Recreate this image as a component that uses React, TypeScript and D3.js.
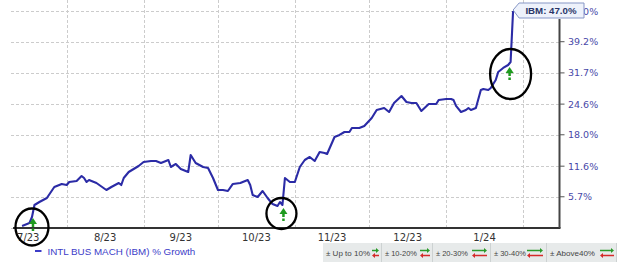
import React from "react";
import * as d3 from "d3";

const dates = [
  "2023-07-14","2023-07-17","2023-07-18","2023-07-19","2023-07-21","2023-07-24","2023-07-27","2023-07-30",
  "2023-08-01","2023-08-02","2023-08-05","2023-08-07","2023-08-08","2023-08-09","2023-08-10","2023-08-13",
  "2023-08-17","2023-08-19","2023-08-22","2023-08-23","2023-08-24","2023-08-26","2023-08-28","2023-08-30",
  "2023-09-01","2023-09-04","2023-09-06","2023-09-08","2023-09-11","2023-09-12","2023-09-14","2023-09-16",
  "2023-09-19","2023-09-20","2023-09-22","2023-09-25","2023-09-27","2023-09-29","2023-10-01","2023-10-03",
  "2023-10-05","2023-10-07","2023-10-10","2023-10-13","2023-10-14","2023-10-15","2023-10-17","2023-10-19",
  "2023-10-21","2023-10-23","2023-10-25","2023-10-26","2023-10-27","2023-10-28","2023-10-30","2023-11-01",
  "2023-11-03","2023-11-05","2023-11-07","2023-11-09","2023-11-11","2023-11-13","2023-11-14","2023-11-17",
  "2023-11-19","2023-11-21","2023-11-23","2023-11-24","2023-11-27","2023-11-29","2023-12-02","2023-12-04",
  "2023-12-07","2023-12-09","2023-12-11","2023-12-14","2023-12-16","2023-12-18","2023-12-20","2023-12-22",
  "2023-12-25","2023-12-28","2023-12-29","2024-01-01","2024-01-03","2024-01-04","2024-01-05","2024-01-07",
  "2024-01-09","2024-01-10","2024-01-11","2024-01-13","2024-01-15","2024-01-16","2024-01-18","2024-01-19",
  "2024-01-21","2024-01-22","2024-01-24","2024-01-26","2024-01-27","2024-01-28"
];
const growth = [
  0.36, 0.89, 1.97, 4.17, 4.72, 5.47, 7.55, 8.13,
  7.93, 8.51, 8.70, 9.67, 9.28, 8.51, 8.90, 8.32,
  6.98, 7.55, 8.32, 7.93, 9.28, 10.45, 11.04, 11.64,
  12.43, 12.63, 12.63, 12.23, 12.83, 11.44, 12.04, 11.04,
  10.45, 13.84, 12.23, 11.44, 11.24, 9.28, 6.98, 6.98,
  6.79, 8.13, 8.32, 8.90, 7.93, 6.03, 5.66, 6.79,
  5.47, 4.35, 3.98, 4.72, 4.17, 9.28, 8.51, 8.51,
  11.44, 12.83, 13.44, 12.63, 14.45, 14.25, 14.04, 17.54,
  17.96, 18.58, 18.58, 19.43, 19.43, 19.85, 21.57, 23.31,
  23.75, 22.87, 24.85, 26.41, 25.07, 24.85, 24.85, 23.09,
  24.63, 24.63, 25.52, 25.74, 25.74, 25.5, 24.2, 22.87,
  23.31, 23.75, 23.31, 23.75, 27.77, 27.99, 27.77, 28.22,
  30.05, 31.91, 32.86, 33.56, 34.28, 47.0
];
const yTickValues = [5.7, 11.6, 18.0, 24.6, 31.7, 39.2, 47.0];
const yTickLabels = ["5.7%", "11.6%", "18.0%", "24.6%", "31.7%", "39.2%", "47.0%"];
const monthStarts = ["2023-07-01","2023-08-01","2023-09-01","2023-10-01","2023-11-01","2023-12-01","2024-01-01","2024-02-01"];
const monthLabels = ["7/23","8/23","9/23","10/23","11/23","12/23","1/24"];
const seriesName = "INTL BUS MACH (IBM) % Growth";
const calloutText = "IBM: 47.0%";
const legendLabels = ["\u00B1 Up to 10%", "\u00B1 10-20%", "\u00B1 20-30%", "\u00B1 30-40%", "\u00B1 Above40%"];
const markerDates = ["2023-07-18", "2023-10-27", "2024-01-27"];

const parse = d3.utcParse("%Y-%m-%d");

export default function App() {
  const left = 11, right = 559.5, top = 11, bottom = 228;
  const x = d3.scaleUtc().domain([parse("2023-08-01")!, parse("2024-02-01")!]).range([66.7, 523]);
  const y = d3.scaleLog().domain([1, 1.47]).range([bottom, top]);
  const yv = (p: number) => y(1 + p / 100);
  const pts = dates.map((d, i) => [x(parse(d)!), yv(growth[i])] as [number, number]);
  const line = d3.line().curve(d3.curveLinear)(pts) || "";
  const last = pts[pts.length - 1];

  const ms = monthStarts.map((d) => x(parse(d)!));
  const font = "'DejaVu Sans', Verdana, sans-serif";
  const arial = "'Liberation Sans', Arial, sans-serif";

  const markerSpec = [
    { rx: 16.5, ry: 18.5, dx: 0, dy: 10, ax: 1, ay: 0 },
    { rx: 15, ry: 15.5, dx: -1, dy: 8.5, ax: 1, ay: 2 },
    { rx: 20.5, ry: 25, dx: 0, dy: 12, ax: -1, ay: 4 },
  ];
  const markers = markerDates.map((d, i) => {
    const idx = dates.indexOf(d);
    const [px, py] = pts[idx];
    return { px, py, ...markerSpec[i] };
  });

  const cellX = [323, 382, 433, 491, 547, 617];
  const textW = [44, 32, 32, 32, 45];
  const arrowEnd = [379, 430, 487, 543, 614];
  const arrowLen = [7, 10, 15, 16, 14];

  return (
    <svg width={620} height={266} style={{ position: "absolute", left: 0, top: 0, background: "#fff" }}>
      <g stroke="#cccccc" strokeWidth={1} strokeDasharray="3,2" fill="none">
        {[0, ...yTickValues].map((v, i) => (
          <line key={"h" + i} x1={left} x2={right} y1={Math.round(yv(v)) + 0.5} y2={Math.round(yv(v)) + 0.5} />
        ))}
        {ms.filter((m) => m > left && m < right).map((m, i) => (
          <line key={"v" + i} x1={Math.round(m) + 0.5} x2={Math.round(m) + 0.5} y1={0} y2={bottom} />
        ))}
      </g>
      <path d={line} fill="none" stroke="#2b2ba6" strokeWidth={2.1} strokeLinejoin="round" />
      <line x1={left + 2} x2={right + 1} y1={bottom} y2={bottom} stroke="#333" strokeWidth={2} />
      <line x1={right} x2={right} y1={top + 8} y2={bottom} stroke="#444" strokeWidth={2} />
      {yTickValues.map((v, i) => (
        <g key={"yt" + i}>
          <line x1={right} x2={right + 5} y1={yv(v)} y2={yv(v)} stroke="#555" strokeWidth={1} />
          <text x={568} y={yv(v) + 3.5} fontFamily={font} fontSize={9.5} fill="#4848a8">{yTickLabels[i]}</text>
        </g>
      ))}
      {monthLabels.map((lab, i) => (
        <text key={"xl" + i} x={(ms[i] + ms[i + 1]) / 2} y={241} textAnchor="middle" fontFamily={font} fontSize={10} fill="#333">{lab}</text>
      ))}
      <path d={`M${last[0]},${last[1] - 1} L${last[0] + 6},3 L584,3 L584,18 L${last[0] + 6},18 Z`} fill="#eef2fb" stroke="#8797c6" strokeWidth={1} />
      <text x={551} y={14} textAnchor="middle" fontFamily={arial} fontWeight="bold" fontSize={9.7} fill="#2a3568">{calloutText}</text>
      {markers.map((m, i) => {
        const cx = m.px + m.dx, cy = m.py + m.dy;
        const axp = m.px + m.ax, tipY = m.py + m.ay + 1;
        return (
          <g key={"mk" + i}>
            <ellipse cx={cx} cy={cy} rx={m.rx} ry={m.ry} fill="none" stroke="#000" strokeWidth={2.3} />
            <path d={`M${axp},${tipY} L${axp + 4},${tipY + 6} L${axp - 4},${tipY + 6} Z`} fill="#1f9a1f" />
            <line x1={axp} x2={axp} y1={tipY + 6} y2={tipY + 13} stroke="#1f9a1f" strokeWidth={2.5} strokeDasharray="3,1.5" />
          </g>
        );
      })}
      <line x1={35} x2={41.5} y1={251} y2={251} stroke="#3c3cc8" strokeWidth={2} />
      <text x={47.5} y={255} fontFamily={arial} fontSize={9.8} fill="#3c3cc8">{seriesName}</text>
      {legendLabels.map((lab, i) => {
        const x0 = cellX[i], x1 = cellX[i + 1] - 1;
        const ax1 = arrowEnd[i], ax0 = ax1 - arrowLen[i];
        return (
          <g key={"lg" + i}>
            <rect x={x0} y={243} width={x1 - x0} height={19} fill="#e7eaea" />
            <line x1={x1 + 0.5} x2={x1 + 0.5} y1={243} y2={262} stroke="#cdd2d2" />
            <text x={x0 + 3} y={256} fontFamily={arial} fontSize={8} fill="#444" textLength={textW[i]} lengthAdjust="spacingAndGlyphs">{lab}</text>
            <line x1={ax0} x2={ax1 - 2} y1={250.5} y2={250.5} stroke="#2a9a2a" strokeWidth={1.5} />
            <path d={`M${ax1},${250.5} L${ax1 - 3},${248} L${ax1 - 3},${253} Z`} fill="#2a9a2a" />
            <line x1={ax0 + 2} x2={ax1} y1={255.5} y2={255.5} stroke="#d42a2a" strokeWidth={1.5} />
            <path d={`M${ax0},${255.5} L${ax0 + 3},${253} L${ax0 + 3},${258} Z`} fill="#d42a2a" />
          </g>
        );
      })}
    </svg>
  );
}
